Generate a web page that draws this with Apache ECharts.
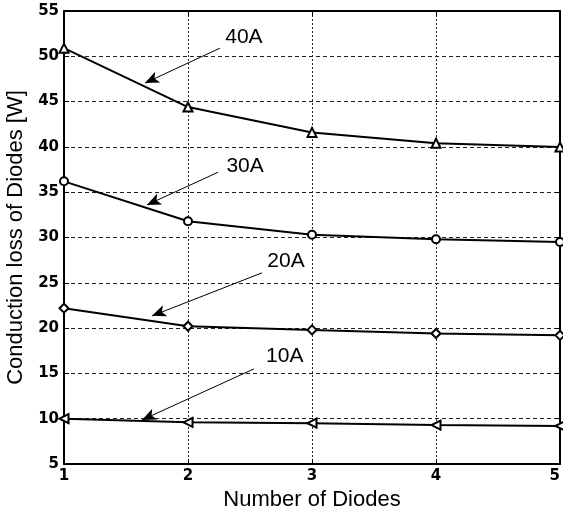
<!DOCTYPE html>
<html>
<head>
<meta charset="utf-8">
<script src="https://cdn.jsdelivr.net/npm/echarts@6/dist/echarts.min.js"></script>
<style>
  html, body { margin: 0; padding: 0; background: #fff; }
  #chart { width: 563px; height: 511px; }
</style>
</head>
<body>
<div id="chart"></div>
<script>
// number of diodes
var diodes = [1, 2, 3, 4, 5];
// conduction loss [W] per current
var loss40 = [50.9, 44.4, 41.6, 40.4, 40.0];
var loss30 = [36.2, 31.8, 30.3, 29.8, 29.5];
var loss20 = [22.2, 20.2, 19.8, 19.4, 19.2];
var loss10 = [10.0, 9.6, 9.5, 9.3, 9.2];

// annotation labels and arrows (start -> tip), in data units
var noteNames = ['40A', '30A', '20A', '10A'];
var notePos = [[2.30, 52.1], [2.31, 37.9], [2.64, 27.4], [2.63, 16.9]];
var arrowFrom = [[2.258, 50.9], [2.242, 37.2], [2.597, 26.1], [2.532, 15.5]];
var arrowTo = [[1.653, 47.05], [1.669, 33.6], [1.71, 21.35], [1.629, 9.86]];

var chart = echarts.init(document.getElementById('chart'));

function pairs(ys) {
    return diodes.map(function (x, i) { return [x, ys[i]]; });
}

function curve(name, ys, symbol, size, rotate) {
    return {
        name: name,
        type: 'line',
        data: pairs(ys),
        symbol: symbol,
        symbolSize: size,
        symbolRotate: rotate || 0,
        showAllSymbol: true,
        lineStyle: { color: '#000', width: 2 },
        itemStyle: { color: '#000', borderColor: '#000', borderWidth: 1.5 },
        z: 5
    };
}

var tickFont = { color: '#000', fontFamily: 'DejaVu Sans', fontWeight: 'bold', fontSize: 15 };
var titleFont = { color: '#000', fontFamily: 'Liberation Sans', fontSize: 22 };

var series = [
    curve('40A', loss40, 'emptyTriangle', 9),
    curve('30A', loss30, 'emptyCircle', 8),
    curve('20A', loss20, 'emptyDiamond', 9),
    curve('10A', loss10, 'emptyTriangle', 9, 90),
    {
        name: 'arrows',
        type: 'line',
        data: [],
        markLine: {
            silent: true,
            symbol: ['none', 'arrow'],
            symbolSize: [9, 14],
            label: { show: false },
            lineStyle: { color: '#000', width: 1, type: 'solid' },
            data: arrowFrom.map(function (p, i) {
                return [{ coord: p }, { coord: arrowTo[i] }];
            })
        }
    },
    {
        name: 'notes',
        type: 'scatter',
        symbolSize: 0,
        itemStyle: { opacity: 1 },
        data: notePos.map(function (p, i) { return [p[0], p[1], noteNames[i]]; }),
        label: {
            show: true,
            position: 'right',
            distance: 0,
            formatter: function (p) { return p.data[2]; },
            color: '#000',
            fontFamily: 'Liberation Sans',
            fontSize: 21
        }
    }
];

chart.setOption({
    animation: false,
    backgroundColor: '#fff',
    grid: { left: 64, right: 3, top: 11, bottom: 47, outerBoundsMode: 'none', containLabel: false },
    xAxis: [{
        type: 'value',
        min: 1,
        max: 5,
        interval: 1,
        name: 'Number of Diodes',
        nameLocation: 'middle',
        nameGap: 20,
        nameTextStyle: titleFont,
        axisLine: { onZero: false, lineStyle: { color: '#000', width: 2 } },
        axisTick: { inside: true, length: 5, lineStyle: { color: '#000' } },
        axisLabel: Object.assign({ margin: 5, alignMaxLabel: 'right' }, tickFont),
        splitLine: { show: true, lineStyle: { color: '#222', width: 1, type: [2, 2] } }
    }, {
        type: 'value',
        position: 'top',
        min: 1,
        max: 5,
        interval: 1,
        axisLine: { onZero: false, lineStyle: { color: '#000', width: 2 } },
        axisTick: { inside: true, length: 5, lineStyle: { color: '#000' } },
        axisLabel: { show: false },
        splitLine: { show: false }
    }],
    yAxis: [{
        type: 'value',
        min: 5,
        max: 55,
        interval: 5,
        name: 'Conduction loss of Diodes [W]',
        nameLocation: 'middle',
        nameGap: 36,
        nameTextStyle: titleFont,
        axisLine: { onZero: false, lineStyle: { color: '#000', width: 2 } },
        axisTick: { inside: true, length: 5, lineStyle: { color: '#000' } },
        axisLabel: Object.assign({ margin: 5 }, tickFont),
        splitLine: { show: true, lineStyle: { color: '#222', width: 1, type: [4, 3] } }
    }, {
        type: 'value',
        position: 'right',
        min: 5,
        max: 55,
        interval: 5,
        axisLine: { onZero: false, lineStyle: { color: '#000', width: 2 } },
        axisTick: { inside: true, length: 5, lineStyle: { color: '#000' } },
        axisLabel: { show: false },
        splitLine: { show: false }
    }],
    series: series
});
</script>
</body>
</html>
